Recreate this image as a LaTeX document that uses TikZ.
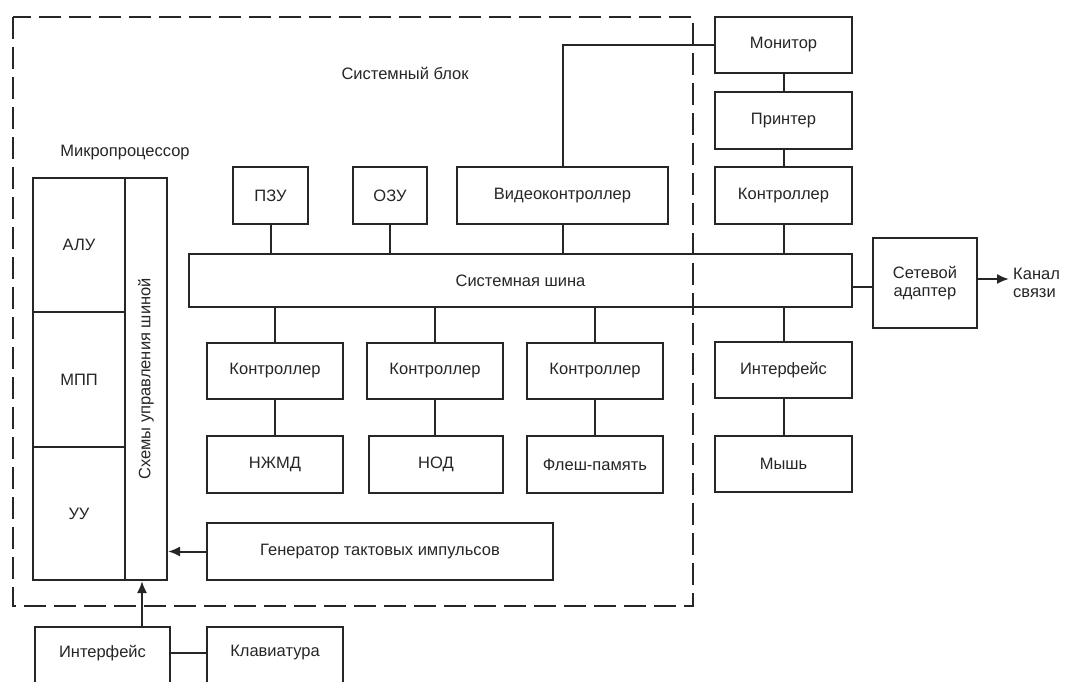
\documentclass[tikz,border=0pt]{standalone}
\usepackage{fontspec}
\setmainfont{Liberation Sans}
\usetikzlibrary{arrows.meta}
\begin{document}
\begin{tikzpicture}[x=1pt,y=-1pt,
  every node/.style={font=\fontsize{16.5}{20}\selectfont, text=black!85},
  box/.style={draw=black!85, line width=2pt, inner sep=0pt, anchor=center},
  ln/.style={draw=black!85, line width=2pt},
  arr/.style={ln, -{Latex[length=12pt,width=10pt]}},
  dashbox/.style={draw=black!85, line width=2.6pt, dash pattern=on 22pt off 8pt},
  plain/.style={inner sep=0pt}
]
\clip (0,0) rectangle (1066,681);
\fill[white] (0,0) rectangle (1066,681);

% system block outline
\draw[dashbox] (13,17) rectangle (693,606);
\node[plain] (sb) at (405,73) {Системный блок};
\node[plain] (mp) at (125,153) {Микропроцессор};

% microprocessor
\node[box, minimum width=92pt, minimum height=134pt] (alu) at (79,245) {АЛУ};
\node[box, minimum width=92pt, minimum height=135pt] (mpp) at (79,379.5) {МПП};
\node[box, minimum width=92pt, minimum height=133pt] (uu) at (79,513.5) {УУ};
\node[box, minimum width=42pt, minimum height=402pt] (col) at (146,379) {};
\node[plain, rotate=90] (colt) at (146,379) {Схемы управления шиной};

% top row
\node[box, minimum width=75pt, minimum height=57pt] (pzu) at (270.5,195.5) {ПЗУ};
\node[box, minimum width=74pt, minimum height=57pt] (ozu) at (390,195.5) {ОЗУ};
\node[box, minimum width=211pt, minimum height=57pt] (vid) at (562.5,195.5) {Видеоконтроллер};

% right column
\node[box, minimum width=137pt, minimum height=56pt] (mon) at (783.5,45) {Монитор};
\node[box, minimum width=137pt, minimum height=57pt] (prn) at (783.5,120.5) {Принтер};
\node[box, minimum width=137pt, minimum height=57pt] (ctlr) at (783.5,195.5) {Контроллер};

% bus
\node[box, minimum width=663pt, minimum height=53pt] (bus) at (520.5,280.5) {Системная шина};
\node[box, minimum width=104pt, minimum height=90pt, align=center] (net) at (925,283) {Сетевой\\[-2pt]адаптер};
\node[plain, anchor=west, align=left] (chan) at (1013,283) {Канал\\[-2pt]связи};

% controllers
\node[box, minimum width=136pt, minimum height=56pt] (c1) at (275,371) {Контроллер};
\node[box, minimum width=136pt, minimum height=56pt] (c2) at (435,371) {Контроллер};
\node[box, minimum width=136pt, minimum height=56pt] (c3) at (595,371) {Контроллер};
\node[box, minimum width=137pt, minimum height=56pt] (ifr) at (783.5,370) {Интерфейс};

% devices
\node[box, minimum width=136pt, minimum height=57pt] (d1) at (275,464.5) {НЖМД};
\node[box, minimum width=134pt, minimum height=57pt] (d2) at (436,464.5) {НОД};
\node[box, minimum width=136pt, minimum height=57pt] (d3) at (595,464.5) {Флеш-память};
\node[box, minimum width=137pt, minimum height=56pt] (mouse) at (783.5,464) {Мышь};

% generator
\node[box, minimum width=346pt, minimum height=57pt] (gen) at (380,551.5) {Генератор тактовых импульсов};

% bottom
\node[box, minimum width=135pt, minimum height=80pt] (ifl) at (102.5,667) {};
\node[plain] (iflt) at (102.5,653) {Интерфейс};
\node[box, minimum width=136pt, minimum height=80pt] (kbd) at (275,667) {};
\node[plain] (kbdt) at (275,653) {Клавиатура};

% connectors
\draw[ln] (pzu.south) -- (pzu.south |- bus.north);
\draw[ln] (ozu.south) -- (ozu.south |- bus.north);
\draw[ln] (vid.south) -- (vid.south |- bus.north);
\draw[ln] (ctlr.south) -- (ctlr.south |- bus.north);
\draw[ln] (vid.north) |- (mon.west);
\draw[ln] (mon.south) -- (prn.north);
\draw[ln] (prn.south) -- (ctlr.north);
\draw[ln] (c1.north) -- (c1.north |- bus.south);
\draw[ln] (c2.north) -- (c2.north |- bus.south);
\draw[ln] (c3.north) -- (c3.north |- bus.south);
\draw[ln] (ifr.north) -- (ifr.north |- bus.south);
\draw[ln] (c1.south) -- (c1.south |- d1.north);
\draw[ln] (c2.south) -- (c2.south |- d2.north);
\draw[ln] (c3.south) -- (c3.south |- d3.north);
\draw[ln] (ifr.south) -- (mouse.north);
\draw[ln] ([yshift=-4pt]net.west) -- ([yshift=-4pt]net.west -| bus.east);
\coordinate (chanin) at (1009,279);
\draw[arr] (net.east |- chanin) -- (chanin);
\draw[arr] (gen.west) -- (gen.west -| col.east);
\coordinate (ifx) at (142,0);
\draw[arr] (ifl.north -| ifx) -- (col.south -| ifx);
\draw[ln] (iflt.east -| ifl.east) -- (iflt.east -| kbd.west);
\end{tikzpicture}
\end{document}
